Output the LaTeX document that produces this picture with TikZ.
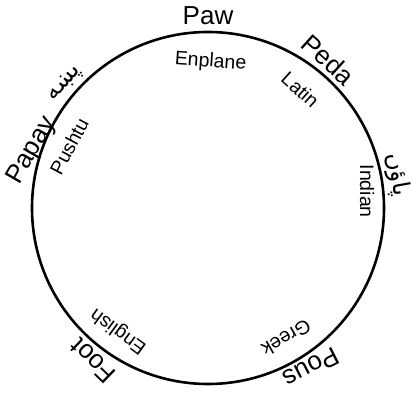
\documentclass[tikz,border=0pt]{standalone}
\usepackage{fontspec}
\setmainfont{Liberation Sans}
\newfontfamily\arabicfont[Script=Arabic]{DejaVu Sans}
\TeXXeTstate=1
\usetikzlibrary{calc}
\tikzset{
    ring/.style={line width=2.6pt},
    word/.style={inner sep=0pt,font=\fontsize{26}{26}\selectfont},
    lang/.style={inner sep=0pt,font=\fontsize{19.5}{19.5}\selectfont},
    script/.style={inner sep=0pt,font=\arabicfont\fontsize{24}{24}\selectfont},
}

\begin{document}
\begin{tikzpicture}[x=1pt,y=1pt]
\useasboundingbox (0,0) rectangle (412,396);
\coordinate (c) at (208,188);
\draw[ring] (c) circle (176);
% words for foot, outside the ring
\node[word,rotate=0]      (paw)   at ($(c)+(90:192)$)    {Paw};
\node[word,rotate=-42]    (peda)  at ($(c)+(51:191)$)    {Peda};
\node[script,rotate=-80]  (paon)  at ($(c)+(10:192)$)    {\beginR پاؤں\endR};
\node[word,rotate=-153]   (pous)  at ($(c)+(-57:190)$)   {Pous};
\node[word,rotate=136]    (foot)  at ($(c)+(-127:191)$)  {Foot};
\node[word,rotate=60]     (papay) at ($(c)+(162:185)$)   {Papay};
\node[script,rotate=48]   (pxa)   at ($(c)+(139:189)$)   {\beginR پښه\endR};
% languages, inside the ring
\node[lang,rotate=-4]     (enp)   at ($(c)+(89:146)$)    {Enplane};
\node[lang,rotate=-42]    (lat)   at ($(c)+(52:150)$)    {Latin};
\node[lang,rotate=-90]    (ind)   at ($(c)+(6:160)$)     {Indian};
\node[lang,rotate=-150]   (grk)   at ($(c)+(-59:152)$)   {Greek};
\node[lang,rotate=144]    (eng)   at ($(c)+(-126:152)$)  {English};
\node[lang,rotate=62]     (push)  at ($(c)+(156:152)$)   {Pushtu};
\end{tikzpicture}
\end{document}
